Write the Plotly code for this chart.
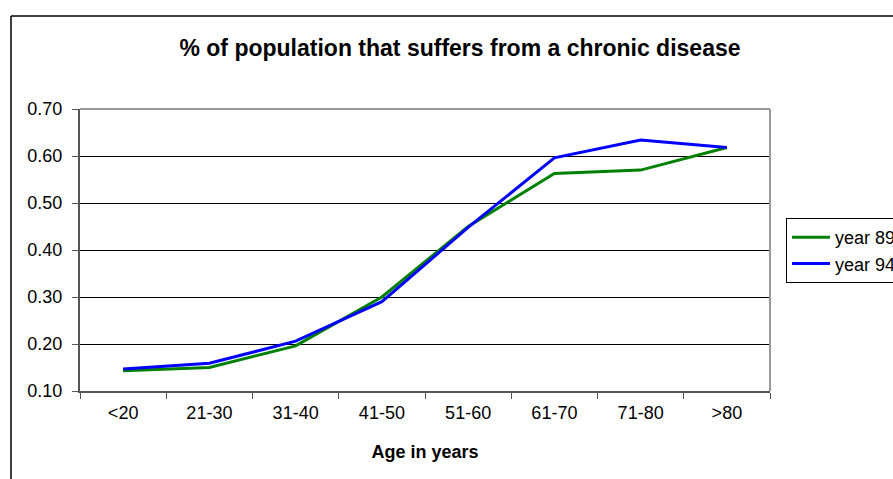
import plotly.graph_objects as go

# Age groups and share of the population with a chronic disease
age_groups = ["<20", "21-30", "31-40", "41-50", "51-60", "61-70", "71-80", ">80"]
year_89 = [0.143, 0.150, 0.196, 0.300, 0.450, 0.563, 0.570, 0.618]
year_94 = [0.147, 0.159, 0.206, 0.290, 0.448, 0.596, 0.634, 0.618]

W, H = 893, 479
L, R, T, B = 80, 123, 109, 88
FONT = "Liberation Sans, Arial, sans-serif"

pw, ph = W - L - R, H - T - B


def px_x(x):
    return (x - L) / pw


def px_y(y):
    return (H - B - y) / ph


fig = go.Figure()
fig.add_trace(go.Scatter(x=age_groups, y=year_89, mode="lines", name="year 89",
                         line=dict(color="#008000", width=3)))
fig.add_trace(go.Scatter(x=age_groups, y=year_94, mode="lines", name="year 94",
                         line=dict(color="#0000FF", width=3)))

# plot-area border: grey top and right edges
fig.add_shape(type="line", xref="paper", yref="paper", x0=0, x1=1, y0=1, y1=1,
              line=dict(color="#999999", width=2))
fig.add_shape(type="line", xref="paper", yref="paper", x0=1, x1=1, y0=0, y1=1,
              line=dict(color="#999999", width=2))

# outer chart frame
fig.add_shape(type="line", xref="paper", yref="paper",
              x0=px_x(11), x1=px_x(W + 5), y0=px_y(16), y1=px_y(16),
              line=dict(color="black", width=1.5))
fig.add_shape(type="line", xref="paper", yref="paper",
              x0=px_x(11), x1=px_x(11), y0=px_y(16), y1=px_y(H + 5),
              line=dict(color="black", width=1.5))

fig.update_layout(
    width=W, height=H,
    margin=dict(l=L, r=R, t=T, b=B, autoexpand=False),
    paper_bgcolor="white", plot_bgcolor="white",
    font=dict(family=FONT, size=18, color="black"),
    title=dict(text="<b>% of population that suffers from a chronic disease</b>",
               x=px_x(460), xref="paper", xanchor="center",
               y=1 - 48 / H, yref="container", yanchor="middle",
               font=dict(family=FONT, size=23, color="black")),
    showlegend=True,
    legend=dict(x=px_x(786), y=px_y(218), xanchor="left", yanchor="top",
                bordercolor="black", borderwidth=1, bgcolor="white",
                font=dict(family=FONT, size=18), itemwidth=38,
                tracegroupgap=0),
    xaxis=dict(
        type="category", range=[-0.5, 7.5],
        showgrid=False, showline=True, linecolor="#555555", linewidth=2,
        ticks="outside", ticklen=6, tickcolor="#555555",
        tickson="boundaries", ticklabelstandoff=4,
        tickfont=dict(family=FONT, size=18),
        title=dict(text="<b>Age in years</b>", standoff=24,
                   font=dict(family=FONT, size=18)),
        zeroline=False,
    ),
    yaxis=dict(
        range=[0.1, 0.7], dtick=0.1, tick0=0.1, tickformat=".2f",
        showgrid=True, gridcolor="black", gridwidth=1,
        showline=True, linecolor="#555555", linewidth=2,
        ticks="outside", ticklen=6, tickcolor="#555555",
        ticklabelstandoff=6,
        tickfont=dict(family=FONT, size=18),
        zeroline=False,
    ),
)

fig.write_html("out.html")
